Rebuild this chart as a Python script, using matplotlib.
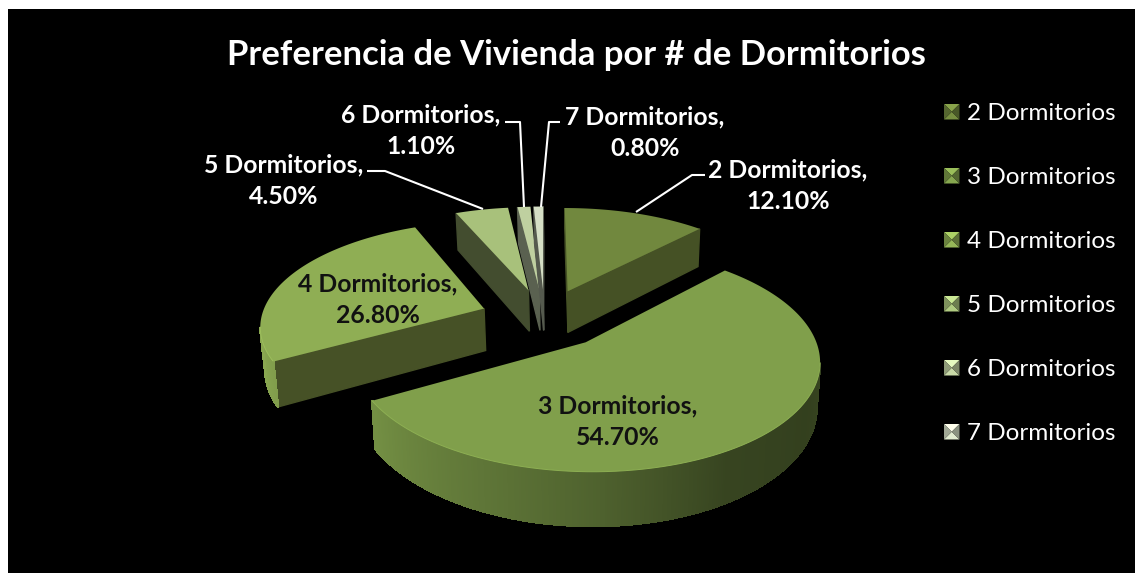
import numpy as np
import matplotlib
matplotlib.use("Agg")
import matplotlib.pyplot as plt

title = "Preferencia de Vivienda por # de Dormitorios"
categories = ["2 Dormitorios", "3 Dormitorios", "4 Dormitorios",
              "5 Dormitorios", "6 Dormitorios", "7 Dormitorios"]
shares = [12.1, 54.7, 26.8, 4.5, 1.1, 0.8]

top_colors = ["#71883e", "#809f4b", "#8fae54", "#a8c17b", "#bfd0a0", "#d5dfc5"]
face_colors = ["#455125", "#4a5727", "#465126", "#434d2f", "#5a6150", "#555a4e"]
label_xy = [(788, 186), (618, 422), (378, 300), (284, 181), (421, 131), (645, 133)]
label_colors = ["white", "#111111", "#111111", "white", "white", "white"]
leaders = [[(705, 175), (692, 175), (636, 212)],
           [], [],
           [(367, 171), (385, 171), (483, 209)],
           [(505, 122), (520, 122), (524, 207)],
           [(560, 122), (549, 122), (541, 207)]]
legend_y = [112, 176, 240, 304, 368, 432]

CX, CY, A, B, K, EXPLODE, H = 544.5, 318, 223, 102.7, 0.146, 0.29, 42.5
VX, SHRINK = 590, 0.985
FONT = "Lato"


def project(X, Y):
    s = 1 / (1 + K * Y)
    return CX + A * X * s, CY - B * Y * s


def drop(x, y):
    s = 1 / (1 + K * (CY - y) / B)
    return VX + (x - VX) * SHRINK, y + H * np.clip(s, 0.75, 1.3)


def rim_shade(t):
    return np.interp(t, [90, 120, 150, 180, 200, 240, 265],
                     [0.45, 0.40, 0.43, 0.62, 0.72, 0.90, 0.98])


def mix(color, f):
    rgb = np.array(matplotlib.colors.to_rgb(color)) * f
    return tuple(np.clip(rgb, 0, 1))


fig = plt.figure(figsize=(11.35, 5.73), dpi=100, facecolor="white")
ax = fig.add_axes([0, 0, 1, 1])
ax.set_xlim(0, 1135)
ax.set_ylim(573, 0)
ax.axis("off")
ax.add_patch(plt.Rectangle((8, 9), 1127, 564, fc="black", ec="none", zorder=0))

edges = np.concatenate([[0], np.cumsum(shares)]) * 3.6
order = [3, 4, 5, 0, 2, 1]
for i in order:
    t0, t1 = edges[i], edges[i + 1]
    mid = np.radians((t0 + t1) / 2)
    ax0, ay0 = EXPLODE * np.sin(mid), EXPLODE * np.cos(mid)
    th = np.linspace(t0, t1, max(int(t1 - t0), 2) * 2 + 1)
    rad = np.radians(th)
    ox, oy = project(ax0 + np.sin(rad), ay0 + np.cos(rad))
    px, py = project(ax0, ay0)
    xs = np.concatenate([[px], ox, [px]])
    ys = np.concatenate([[py], oy, [py]])
    z = order.index(i) * 10 + 1
    # visible side walls: an edge walked clockwise faces the viewer when it goes left
    for j in range(len(xs) - 1):
        if xs[j + 1] - xs[j] >= 0:
            continue
        bx0, by0 = drop(xs[j], ys[j])
        bx1, by1 = drop(xs[j + 1], ys[j + 1])
        radial = j == 0 or j == len(xs) - 2
        col = face_colors[i] if radial else mix(top_colors[i], rim_shade((th[j - 1] + th[j]) / 2))
        ax.fill([xs[j], xs[j + 1], bx1, bx0], [ys[j], ys[j + 1], by1, by0],
                fc=col, ec=col, lw=1.0, antialiased=radial, zorder=z)
    ax.fill(xs, ys, fc=top_colors[i], ec="none", zorder=z + 1)
    if i in (1, 2):
        vis = np.diff(ox, prepend=ox[0]) < 0
        ax.plot(ox[vis], oy[vis], color=mix(top_colors[i], 1.1), lw=0.7, zorder=z + 2)
    if leaders[i]:
        lx, ly = zip(*leaders[i])
        ax.plot(lx, ly, color="white", lw=1.5, zorder=90, solid_capstyle="butt")
    ax.text(*label_xy[i], f"{categories[i]},\n{shares[i]:.2f}%", color=label_colors[i],
            family=FONT, weight="bold", fontsize=17.8, ha="center", va="center",
            linespacing=1.45, zorder=100)

ax.text(576, 55, title, color="white", family=FONT, weight="bold", fontsize=24.9,
        ha="center", va="center", zorder=100)

for c, name, y in zip(top_colors, categories, legend_y):
    l, r, t, b = 944, 959.5, y - 8, y + 7.5
    mx, my = (l + r) / 2, (t + b) / 2
    ax.fill([l, r, mx], [t, t, my], fc=mix(c, 1.2), ec="none", zorder=100)
    ax.fill([l, r, mx], [b, b, my], fc=mix(c, 1.05), ec="none", zorder=100)
    ax.fill([l, l, mx], [t, b, my], fc=mix(c, 0.75), ec="none", zorder=100)
    ax.fill([r, r, mx], [t, b, my], fc=mix(c, 0.65), ec="none", zorder=100)
    ax.text(967, y + 1.5, name, color="white", family=FONT, fontsize=17.5, ha="left",
            va="center", zorder=100)

fig.savefig("out.png", dpi=100, facecolor="white")
